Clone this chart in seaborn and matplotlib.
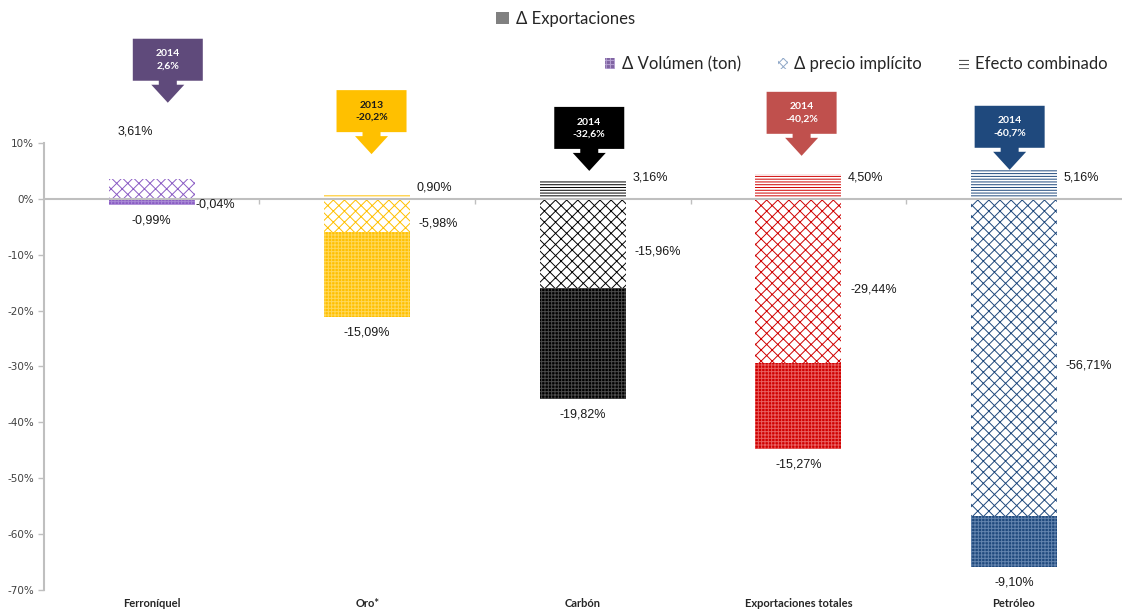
import matplotlib
matplotlib.use('Agg')
import matplotlib.pyplot as plt
import matplotlib.transforms as mtransforms
from matplotlib.patches import Patch, Polygon
import seaborn as sns

# data (% variation of exports, decomposition)
categorias = ['Ferroníquel', 'Oro*', 'Carbón', 'Exportaciones totales', 'Petróleo']
precio = [3.61, -5.98, -15.96, -29.44, -56.71]
volumen = [-0.99, -15.09, -19.82, -15.27, -9.10]
efecto = [-0.04, 0.90, 3.16, 4.50, 5.16]
anios = ['2014', '2013', '2014', '2014', '2014']
totales = ['2,6%', '-20,2%', '-32,6%', '-40,2%', '-60,7%']

# styles
colores = ['#8A5CC4', '#FFC000', '#000000', '#D00000', '#1F497D']
colores_vol = ['#A98BD6', '#FFD85A', '#4A4A4A', '#E86060', '#6384AE']
colores_caja = ['#5F4A7B', '#FFC000', '#000000', '#C0504D', '#1F497D']
texto_caja = ['white', '#1a1a1a', 'white', 'white', 'white']
punta_y = [17.2, 8.0, 5.0, 7.7, 5.2]
punta_dx = [0.075, 0.02, 0.03, 0.015, -0.02]
ancho = 0.4

sns.set_style('white')
plt.rcParams['font.family'] = ['Liberation Sans', 'DejaVu Sans']
plt.rcParams['hatch.linewidth'] = 0.7

fig = plt.figure(figsize=(11.24, 6.12), dpi=100)
ax = fig.add_axes([0.039, 0.036, 0.959, 0.7304])


def apilar(capas):
    pos = [0.0] * len(categorias)
    neg = [0.0] * len(categorias)
    bases = []
    for capa in capas:
        b = []
        for i, v in enumerate(capa):
            if v >= 0:
                b.append(pos[i])
                pos[i] += v
            else:
                b.append(neg[i])
                neg[i] += v
        bases.append(b)
    return bases


capas = [precio, volumen, efecto]
bases = apilar(capas)
hatches = ['xxx', '+++++', '------']

for k, (capa, base) in enumerate(zip(capas, bases)):
    sns.barplot(x=categorias, y=capa, bottom=base, color='gray', width=ancho,
                errorbar=None, ax=ax, zorder=2)
    for i, bar in enumerate(ax.containers[-1]):
        bar.set_linewidth(0)
        bar.set_hatch(hatches[k])
        if k == 1:
            bar.set_facecolor(colores[i])
            bar.set_edgecolor(colores_vol[i])
        else:
            bar.set_facecolor('white')
            bar.set_edgecolor(colores[i])

# axes styling
ax.set_xlim(-0.5, len(categorias) - 0.5)
ax.set_ylim(-70, 10)
ax.set_yticks(range(-70, 11, 10))
ax.set_yticklabels([f'{t}%' for t in range(-70, 11, 10)], fontsize=7.5,
                   family='DejaVu Sans', color='#404040')
ax.tick_params(axis='y', left=True, length=4, width=1, color='#BFBFBF', pad=3)
ax.tick_params(axis='x', bottom=False, length=0, pad=6)
ax.set_xticks(range(len(categorias)))
ax.set_xticklabels(categorias, fontsize=8, fontweight='bold', family='Lato')
for s in ['top', 'right', 'bottom']:
    ax.spines[s].set_visible(False)
ax.spines['left'].set_color('#BFBFBF')
ax.spines['left'].set_linewidth(1.5)
ax.axhline(0, color='#BFBFBF', lw=1.5, zorder=3)
ax.vlines([i + 0.5 for i in range(len(categorias) - 1)], -0.9, 0,
          color='#BFBFBF', lw=1, zorder=3)
ax.set_xlabel('')

# data labels
fmt = lambda v: f'{v:.2f}%'.replace('.', ',')
kw = dict(fontsize=9, color='#1a1a1a')
for i in range(len(categorias)):
    der = i + ancho / 2
    bottom = bases[1][i] + volumen[i] if volumen[i] < 0 else 0
    ax.text(i, min(bottom, bases[2][i] + min(efecto[i], 0)) - 2.8, fmt(volumen[i]),
            ha='center', va='center', **kw)
    if precio[i] >= 0:
        ax.text(i - 0.075, precio[i] + 8.5, fmt(precio[i]), ha='center', va='center',
                clip_on=False, **kw)
    else:
        ax.text(der + 0.04, precio[i] / 2 - 1.5, fmt(precio[i]), ha='left',
                va='center', **kw)
    if efecto[i] >= 0:
        y = 3.8 if efecto[i] > 2 else efecto[i] / 2 + 1.5
        ax.text(der + 0.03, y, fmt(efecto[i]), ha='left', va='center', **kw)
    else:
        ax.text(der + 0.005, -1.1, fmt(efecto[i]), ha='left', va='center', **kw)

# callouts
forma = [(-35, 64), (35, 64), (35, 22), (9, 22), (9, 18), (16.5, 18), (0, 0),
         (-16.5, 18), (-9, 18), (-9, 22), (-35, 22)]
for i in range(len(categorias)):
    tr = (mtransforms.Affine2D().scale(1 / 100) + fig.dpi_scale_trans
          + mtransforms.ScaledTranslation(i + punta_dx[i], punta_y[i], ax.transData))
    ax.add_patch(Polygon(forma, closed=True, transform=tr, facecolor=colores_caja[i],
                         edgecolor='none', clip_on=False, zorder=5))
    ax.text(0, 43, f'{anios[i]}\n{totales[i]}', transform=tr, ha='center',
            va='center', fontsize=7.5, fontweight='bold', color=texto_caja[i],
            linespacing=1.4, family='Lato', zorder=6, clip_on=False)

# legends
h = [Patch(facecolor='#8064A2', edgecolor='#B7A3D3', hatch='++++', lw=0),
     Patch(facecolor='white', edgecolor='#8FA8C8', hatch='xxxx', lw=0),
     Patch(facecolor='white', edgecolor='#404040', hatch='----', lw=0)]
fig.legend(h, ['Δ Volúmen (ton)', 'Δ precio implícito', 'Efecto combinado'],
           loc='center', bbox_to_anchor=(0.762, 0.895), ncol=3, frameon=False,
           prop={'family': 'Lato', 'size': 12}, handlelength=0.6, handleheight=0.6,
           handletextpad=0.4, columnspacing=2.2)
fig.legend([Patch(facecolor='#808080', lw=0)], ['Δ Exportaciones'], loc='center',
           bbox_to_anchor=(0.503, 0.969), frameon=False,
           prop={'family': 'Lato', 'size': 12}, handlelength=0.8, handleheight=0.7,
           handletextpad=0.4)

fig.savefig('out.png', dpi=100)
